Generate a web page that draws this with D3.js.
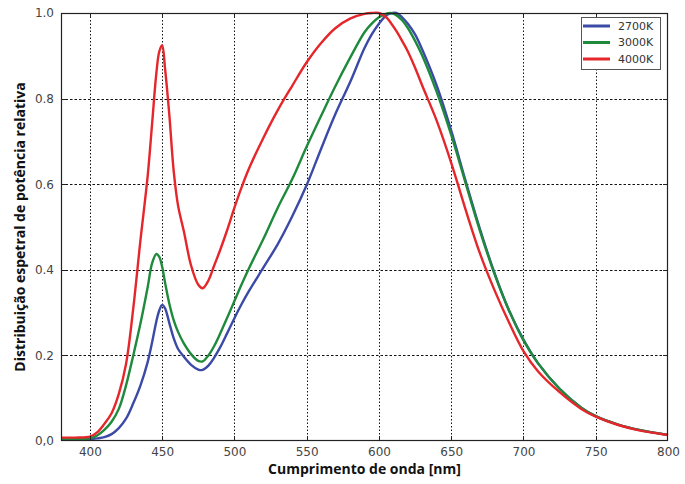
<!DOCTYPE html>
<html>
<head>
<meta charset="utf-8">
<script src="https://cdn.jsdelivr.net/npm/d3@7"></script>
<style>
  html, body { margin: 0; padding: 0; background: #fff; }
  svg { display: block; }
</style>
</head>
<body>
<div id="chart"></div>
<script>
// wavelength samples [nm]
const wavelengths = [380, 390, 400, 405, 410, 415, 420, 425, 430, 435, 440, 443, 446, 448, 450, 452, 455, 458, 461, 465,
  470, 475, 478, 482, 486, 490, 495, 500, 505, 510, 520, 530, 540, 550, 560, 570, 580, 590, 595, 600,
  605, 608, 612, 616, 620, 625, 630, 640, 650, 660, 670, 680, 690, 700, 710, 725, 740, 750, 765, 780, 800];

const spd2700 = [0.003, 0.003, 0.004, 0.006, 0.009, 0.016, 0.03, 0.052, 0.088, 0.13, 0.185, 0.23, 0.28, 0.305, 0.318, 0.31, 0.275, 0.24, 0.215, 0.197,
  0.178, 0.167, 0.166, 0.176, 0.195, 0.218, 0.252, 0.287, 0.32, 0.35, 0.405, 0.46, 0.525, 0.598, 0.683, 0.765, 0.838, 0.918, 0.95, 0.975,
  0.994, 0.999, 1.0, 0.99, 0.975, 0.95, 0.914, 0.83, 0.725, 0.607, 0.494, 0.392, 0.305, 0.237, 0.182, 0.122, 0.078, 0.058, 0.039, 0.026, 0.014];

const spd3000 = [0.004, 0.004, 0.006, 0.013, 0.026, 0.045, 0.075, 0.13, 0.2, 0.275, 0.36, 0.415, 0.437, 0.43, 0.407, 0.37, 0.32, 0.282, 0.255, 0.228,
  0.203, 0.187, 0.186, 0.2, 0.222, 0.25, 0.288, 0.327, 0.366, 0.403, 0.472, 0.545, 0.612, 0.688, 0.76, 0.83, 0.895, 0.955, 0.975, 0.99,
  0.998, 1.0, 0.995, 0.983, 0.965, 0.935, 0.9, 0.815, 0.715, 0.602, 0.49, 0.39, 0.305, 0.235, 0.182, 0.122, 0.078, 0.058, 0.039, 0.026, 0.014];

const spd4000 = [0.008, 0.008, 0.01, 0.02, 0.04, 0.065, 0.11, 0.18, 0.31, 0.47, 0.62, 0.74, 0.86, 0.91, 0.925, 0.87, 0.76, 0.63, 0.55, 0.49,
  0.41, 0.365, 0.357, 0.375, 0.41, 0.445, 0.493, 0.545, 0.593, 0.636, 0.708, 0.773, 0.83, 0.885, 0.93, 0.965, 0.987, 0.998, 1.0, 1.0,
  0.99, 0.978, 0.958, 0.935, 0.91, 0.872, 0.83, 0.748, 0.65, 0.54, 0.437, 0.352, 0.277, 0.21, 0.163, 0.114, 0.075, 0.057, 0.038, 0.025, 0.014];

const seriesNames = ['2700K', '3000K', '4000K'];
const seriesColors = ['#3b4aa6', '#1f8a3c', '#e5262b'];
const xTicks = [400, 450, 500, 550, 600, 650, 700, 750, 800];
const yTicks = [0, 0.2, 0.4, 0.6, 0.8, 1.0];
const yTickLabels = ['0,0', '0.2', '0.4', '0.6', '0.8', '1.0'];

const cfg = {
  width: 685,
  height: 484,
  margin: { left: 61, right: 17, top: 13, bottom: 43 }
};

const series = [spd2700, spd3000, spd4000].map((vals, i) => ({
  name: seriesNames[i],
  color: seriesColors[i],
  points: wavelengths.map((w, j) => ({ wl: w, v: vals[j] }))
}));

const svg = d3.select('#chart')
  .append('svg')
  .attr('width', cfg.width)
  .attr('height', cfg.height);

const x = d3.scaleLinear([380, 800], [cfg.margin.left, cfg.width - cfg.margin.right]);
const y = d3.scaleLinear([0, 1], [cfg.height - cfg.margin.bottom, cfg.margin.top]);

const x0 = x.range()[0], x1 = x.range()[1];
const y0 = y.range()[0], y1 = y.range()[1];

// grid
svg.append('g')
  .attr('class', 'xgrid')
  .selectAll('line')
  .data(xTicks.filter(d => d < 800))
  .join('line')
  .attr('x1', d => Math.round(x(d)) + 0.5)
  .attr('x2', d => Math.round(x(d)) + 0.5)
  .attr('y1', y1)
  .attr('y2', y0)
  .style('stroke', '#111')
  .style('stroke-width', 1)
  .style('stroke-dasharray', '1.5,2');

svg.append('g')
  .attr('class', 'ygrid')
  .selectAll('line')
  .data(yTicks.filter(d => d > 0 && d < 1))
  .join('line')
  .attr('x1', x0)
  .attr('x2', x1)
  .attr('y1', d => Math.round(y(d)) + 0.5)
  .attr('y2', d => Math.round(y(d)) + 0.5)
  .style('stroke', '#111')
  .style('stroke-width', 1)
  .style('stroke-dasharray', '2.5,2');

// curves
const line = d3.line()
  .x(d => x(d.wl))
  .y(d => y(d.v))
  .curve(d3.curveCatmullRom.alpha(0.5));

svg.append('g')
  .attr('class', 'chartlines')
  .selectAll('path')
  .data(series)
  .join('path')
  .attr('d', d => line(d.points))
  .style('fill', 'none')
  .style('stroke', d => d.color)
  .style('stroke-width', 2.4)
  .style('stroke-linejoin', 'round');

// frame + inward ticks
svg.append('rect')
  .attr('x', x0 + 0.5)
  .attr('y', y1 + 0.5)
  .attr('width', x1 - x0 - 1)
  .attr('height', y0 - y1 - 1)
  .style('fill', 'none')
  .style('stroke', '#222')
  .style('stroke-width', 1.2);

const xAxis = d3.axisBottom(x).tickValues(xTicks).tickSize(0).tickPadding(6);
svg.append('g')
  .attr('class', 'xAxis')
  .attr('transform', `translate(0, ${y0})`)
  .call(xAxis)
  .call(g => g.select('.domain').remove())
  .call(g => g.selectAll('text')
    .style('font-family', '"DejaVu Sans", sans-serif')
    .style('font-size', '12px')
    .style('fill', '#444'));

const yAxis = d3.axisLeft(y).tickValues(yTicks).tickFormat((d, i) => yTickLabels[i]).tickSize(0).tickPadding(7);
svg.append('g')
  .attr('class', 'yAxis')
  .attr('transform', `translate(${x0}, 0)`)
  .call(yAxis)
  .call(g => g.select('.domain').remove())
  .call(g => g.selectAll('text')
    .style('font-family', '"DejaVu Sans", sans-serif')
    .style('font-size', '12px')
    .style('fill', '#444'));

const tickLen = 5;
const ticks = svg.append('g').attr('class', 'innerTicks').style('stroke', '#222').style('stroke-width', 1);
xTicks.filter(d => d < 800).forEach(d => {
  const px = Math.round(x(d)) + 0.5;
  ticks.append('line').attr('x1', px).attr('x2', px).attr('y1', y0).attr('y2', y0 - tickLen);
  ticks.append('line').attr('x1', px).attr('x2', px).attr('y1', y1).attr('y2', y1 + tickLen);
});
yTicks.filter(d => d > 0 && d < 1).forEach(d => {
  const py = Math.round(y(d)) + 0.5;
  ticks.append('line').attr('x1', x0).attr('x2', x0 + tickLen).attr('y1', py).attr('y2', py);
  ticks.append('line').attr('x1', x1).attr('x2', x1 - tickLen).attr('y1', py).attr('y2', py);
});

// axis titles
svg.append('text')
  .attr('x', (x0 + x1) / 2)
  .attr('y', 474)
  .attr('text-anchor', 'middle')
  .style('font-family', '"Open Sans", sans-serif')
  .style('font-weight', 'bold')
  .style('font-size', '14px')
  .style('fill', '#111')
  .text('Cumprimento de onda [nm]');

svg.append('text')
  .attr('transform', `translate(25, ${(y0 + y1) / 2}) rotate(-90)`)
  .attr('text-anchor', 'middle')
  .style('font-family', '"Open Sans", sans-serif')
  .style('font-weight', 'bold')
  .style('font-size', '14px')
  .style('fill', '#111')
  .text('Distribuição espetral de potência relativa');

// legend
const legend = svg.append('g').attr('class', 'legend');
legend.append('rect')
  .attr('x', 581.5)
  .attr('y', 17.5)
  .attr('width', 79)
  .attr('height', 52)
  .style('fill', '#fff')
  .style('stroke', '#555')
  .style('stroke-width', 1);

const rowY = [26, 42.5, 59];
const rows = legend.selectAll('g.row')
  .data(series)
  .join('g')
  .attr('class', 'row')
  .attr('transform', (d, i) => `translate(0, ${rowY[i]})`);
rows.append('line')
  .attr('x1', 583).attr('x2', 610)
  .attr('y1', 0).attr('y2', 0)
  .style('stroke', d => d.color)
  .style('stroke-width', 3);
rows.append('text')
  .attr('x', 618)
  .attr('y', 0)
  .attr('dy', '0.35em')
  .style('font-family', '"DejaVu Sans", sans-serif')
  .style('font-size', '11px')
  .style('fill', '#333')
  .text(d => d.name);
</script>
</body>
</html>
